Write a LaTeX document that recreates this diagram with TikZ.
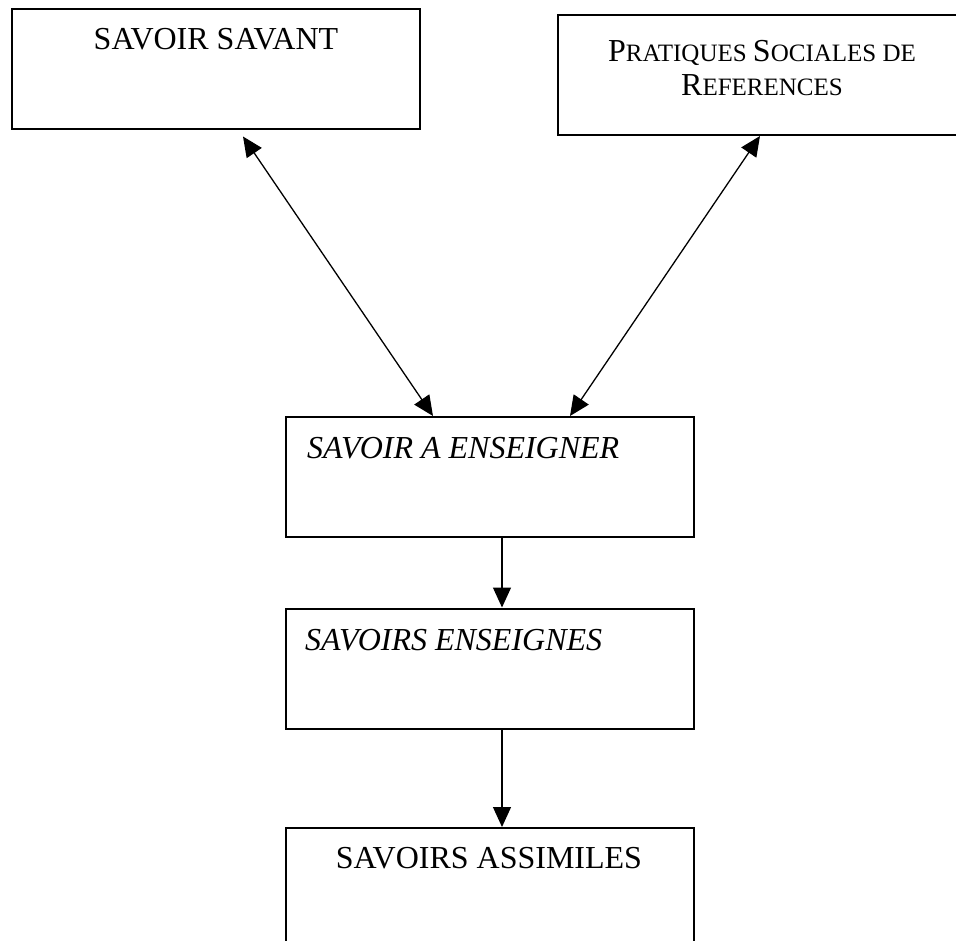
\documentclass[tikz,border=0pt]{standalone}
\usepackage{fontspec}
\setmainfont{Liberation Serif}
\usetikzlibrary{arrows.meta}
\newcommand{\smc}[2]{{\fontsize{32}{32}\selectfont #1}{\fontsize{25}{25}\selectfont #2}}

\begin{document}
\begin{tikzpicture}[line cap=round,line join=round,>={Triangle[length=20pt,width=18pt]},x=1pt,y=-1pt,
  box/.style={draw,line width=2pt,line cap=butt,line join=miter,inner sep=0pt,minimum width=408pt,minimum height=120pt},
  lbl/.style={anchor=base,font=\fontsize{32}{38}\selectfont,inner sep=0pt}]
\useasboundingbox (0,0) rectangle (956,941);
\clip (0,0) rectangle (956,941);
\node[box] (savant) at (216,69.5) {};
\node[box] (prat) at (762,75) {};
\node[box] (aens) at (490,477) {};
\node[box] (ens) at (490,668.5) {};
\node[box] (assim) at (490,888) {};
% texts
\node[lbl] (tsavant) at (216,50) {SAVOIR SAVANT};
\node[lbl] (tprat1) at (762,62) {\smc{P}{RATIQUES }\smc{S}{OCIALES DE}};
\node[lbl] (tprat2) at (762,96) {\smc{R}{EFERENCES}};
\node[lbl,anchor=base west,font=\fontsize{32}{38}\selectfont\itshape] (taens) at (307,458) {SAVOIR A ENSEIGNER};
\node[lbl,anchor=base west,font=\fontsize{32}{38}\selectfont\itshape] (tens) at (305,650) {SAVOIRS ENSEIGNES};
\node[lbl] (tassim) at (489,868) {SAVOIRS ASSIMILES};
% arrows
\draw[<->,line width=1.3pt] ([shift={(232,6)}]savant.south west) -- ([xshift=148]aens.north west);
\draw[<->,line width=1.3pt] ([xshift=203]prat.south west) -- ([xshift=285]aens.north west);
\draw[->,line width=1.3pt] ([xshift=12]aens.south) -- ([xshift=12]ens.north);
\draw[->,line width=1.3pt] ([xshift=12]ens.south) -- ([xshift=12]assim.north);
\end{tikzpicture}
\end{document}
